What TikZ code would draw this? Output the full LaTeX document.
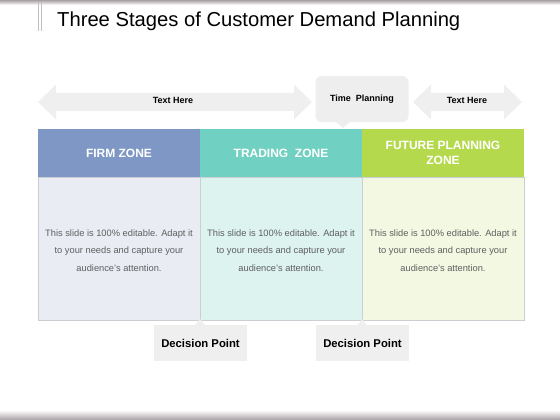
\documentclass[tikz,border=0pt]{standalone}
\usepackage{fontspec}
\setmainfont{Liberation Sans}
\usetikzlibrary{positioning}
\definecolor{firmhead}{HTML}{7E97C4}
\definecolor{tradehead}{HTML}{70D0C2}
\definecolor{futurehead}{HTML}{B5D94D}
\definecolor{firmbody}{HTML}{E9ECF3}
\definecolor{tradebody}{HTML}{DDF3F0}
\definecolor{futurebody}{HTML}{F3F8E3}
\definecolor{arrowgray}{HTML}{EFEFEF}
\definecolor{calloutgray}{HTML}{EEEEEE}
\definecolor{cellline}{HTML}{CBCFD4}
\definecolor{bodytext}{HTML}{5F5F5F}
\definecolor{edgegray}{HTML}{A8A0A5}
\newcommand{\zonetext}{This slide is 100\% editable. Adapt it\\to your needs and capture your\\audience's attention.}
\tikzset{
    arrowfill/.style={fill=arrowgray, draw=none},
    arrowtext/.style={font=\bfseries\fontsize{9}{10}\selectfont, text=black},
    headcell/.style={minimum width=162pt, minimum height=48pt, inner sep=0pt,
        text=white, align=center, font=\bfseries\fontsize{12}{15}\selectfont},
    bodycell/.style={minimum width=162pt, minimum height=143pt, inner sep=0pt,
        draw=cellline, line width=0.6pt},
    bodytxt/.style={text=bodytext, align=center, inner sep=0pt,
        font=\fontsize{9.3}{17.5}\selectfont},
    callout/.style={fill=calloutgray, minimum width=93pt, minimum height=46pt,
        rounded corners=6pt, font=\bfseries\fontsize{9}{10}\selectfont},
    decisionbox/.style={fill=arrowgray, minimum width=93pt, minimum height=36pt,
        inner sep=0pt, font=\bfseries\fontsize{11.3}{13}\selectfont},
}

\begin{document}
\begin{tikzpicture}[x=1pt, y=-1pt]
\useasboundingbox (0,0) rectangle (560,420);
% slide edges
\shade[top color=edgegray, bottom color=white] (0,0) rectangle (560,5);
\shade[top color=white, bottom color=edgegray] (0,410) rectangle (560,420);
% title
\draw[gray!50, line width=1.2pt] (38.5,3) -- (38.5,31);
\draw[gray!50, line width=1.2pt] (41.5,3) -- (41.5,31);
\node[anchor=base west, inner sep=0pt, font=\fontsize{20.2}{24}\selectfont] (title) at (57,27) {Three Stages of Customer Demand Planning};
% double arrows
\fill[arrowfill] (38,102) -- (56,84.5) -- (56,93) -- (294,93) -- (294,84.5) -- (312,102)
    -- (294,119.5) -- (294,111) -- (56,111) -- (56,119.5) -- cycle;
\node[arrowtext] (lefttext) at (173,100) {Text Here};
\fill[arrowfill] (413,102) -- (431,84.5) -- (431,93) -- (504,93) -- (504,84.5) -- (522,102)
    -- (504,119.5) -- (504,111) -- (431,111) -- (431,119.5) -- cycle;
\node[arrowtext] (righttext) at (467,100) {Text Here};
% time callout
\node[callout] (time) at (362,99) {Time\ \ Planning};
\fill[calloutgray] (335,121) -- (343,128) -- (351,121) -- cycle;
% zone headers
\node[headcell, fill=firmhead] (firm) at (119,153) {FIRM ZONE};
\node[headcell, fill=tradehead] (trade) at (281,153) {TRADING\ \ ZONE};
\node[headcell, fill=futurehead] (future) at (443,153) {FUTURE PLANNING\\ZONE};
% zone bodies
\node[bodycell, fill=firmbody] (firmbox) at (119,248.5) {};
\node[bodycell, fill=tradebody] (tradebox) at (281,248.5) {};
\node[bodycell, fill=futurebody] (futurebox) at (443,248.5) {};
\node[bodytxt] (firmtxt) at (119,250.5) {\zonetext};
\node[bodytxt] (tradetxt) at (281,250.5) {\zonetext};
\node[bodytxt] (futuretxt) at (443,250.5) {\zonetext};
% decision points
\node[decisionbox] (dec1) at (200.5,343) {Decision Point};
\fill[arrowgray] (195,325.5) -- (200,319) -- (205,325.5) -- cycle;
\node[decisionbox] (dec2) at (362.5,343) {Decision Point};
\fill[arrowgray] (357,325.5) -- (362,319) -- (367,325.5) -- cycle;
\end{tikzpicture}
\end{document}
